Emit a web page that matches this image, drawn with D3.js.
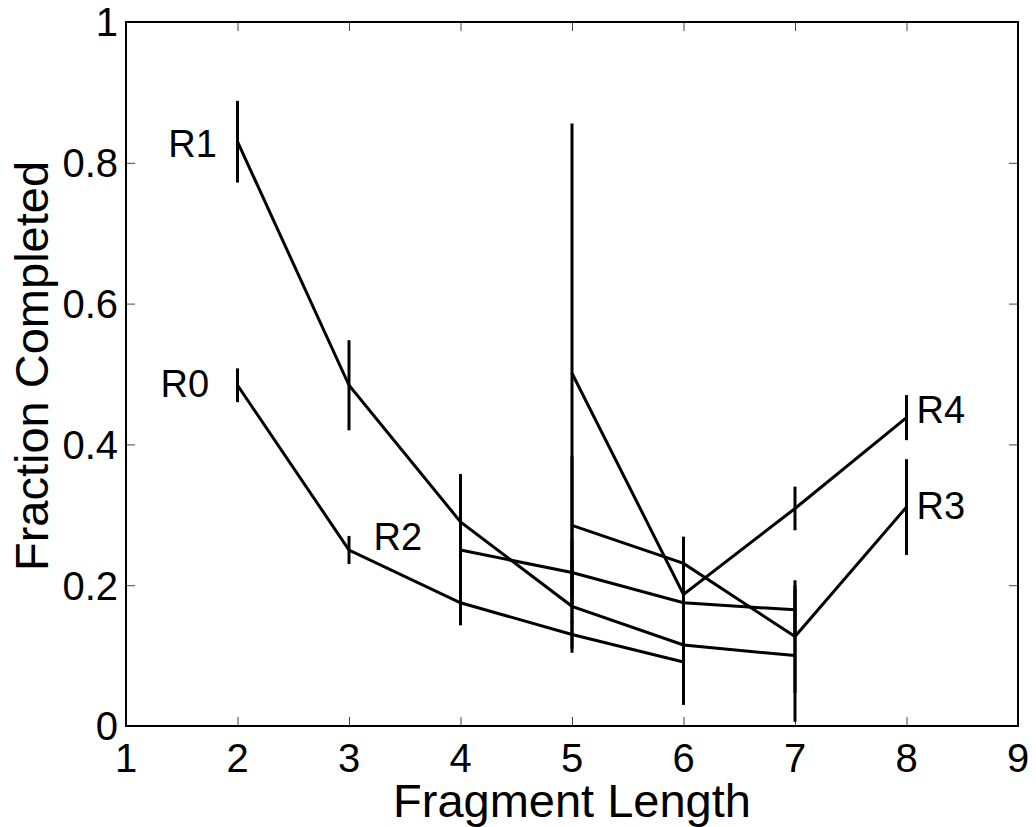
<!DOCTYPE html>
<html>
<head>
<meta charset="utf-8">
<script src="https://cdn.jsdelivr.net/npm/d3@7"></script>
<style>
  html, body { margin: 0; padding: 0; background: #fff; }
  text { font-family: "Liberation Sans", Arial, Helvetica, sans-serif; fill: #000; }
</style>
</head>
<body>
<svg id="chart" width="1036" height="827"></svg>
<script>
// Fragment length on x, fraction of runs completed on y; one series per run
const seriesNames = ["R0", "R1", "R2", "R3", "R4"];
const seriesX = [
  [2, 3, 4, 5, 6],
  [2, 3, 4, 5, 6, 7],
  [4, 5, 6, 7],
  [5, 6, 7, 8],
  [5, 6, 7, 8]
];
const seriesY = [
  [0.484, 0.250, 0.175, 0.130, 0.091],
  [0.830, 0.484, 0.290, 0.170, 0.115, 0.100],
  [0.250, 0.218, 0.175, 0.165],
  [0.285, 0.231, 0.127, 0.311],
  [0.501, 0.187, 0.309, 0.438]
];
// half-width of each error bar
const seriesErr = [
  [0.024, 0.020, 0.032, 0.020, 0.061],
  [0.058, 0.064, 0.068, 0.066, 0.060, 0.094],
  [0.050, 0.045, 0.035, 0.035],
  [0.098, 0.036, 0.080, 0.068],
  [0.355, 0.082, 0.031, 0.032]
];
// where each run's name is written (data coordinates)
const labelX = [1.31, 1.38, 3.22, 8.09, 8.09];
const labelY = [0.486, 0.828, 0.269, 0.314, 0.450];

const xTicks = [1, 2, 3, 4, 5, 6, 7, 8, 9];
const yTicks = [0, 0.2, 0.4, 0.6, 0.8, 1];
const xTitle = "Fragment Length";
const yTitle = "Fraction Completed";

(function draw() {
  const svg = d3.select("#chart");
  const m = { left: 126, right: 1018, top: 22, bottom: 726 };

  const x = d3.scaleLinear().domain([1, 9]).range([m.left, m.right]);
  const y = d3.scaleLinear().domain([0, 1]).range([m.bottom, m.top]);

  const tickLen = 9;
  const tickFont = 40;

  // inward ticks on all four sides
  function tickAxis(axis, tx, ty) {
    const g = svg.append("g").attr("transform", `translate(${tx},${ty})`).call(axis);
    g.select(".domain").remove();
    g.selectAll(".tick line").attr("stroke", "#444").attr("stroke-width", 1);
    g.selectAll(".tick text").remove();
    return g;
  }
  tickAxis(d3.axisBottom(x).tickValues(xTicks).tickSize(-tickLen), 0, m.bottom);
  tickAxis(d3.axisTop(x).tickValues(xTicks).tickSize(-tickLen), 0, m.top);
  tickAxis(d3.axisLeft(y).tickValues(yTicks).tickSize(-tickLen), m.left, 0);
  tickAxis(d3.axisRight(y).tickValues(yTicks).tickSize(-tickLen), m.right, 0);

  // tick labels
  svg.append("g").selectAll("text").data(xTicks).join("text")
    .attr("x", d => x(d))
    .attr("y", 743 + 0.716 * tickFont)
    .attr("text-anchor", "middle")
    .attr("font-size", tickFont)
    .text(d => d3.format("")(d));

  svg.append("g").selectAll("text").data(yTicks).join("text")
    .attr("x", 118)
    .attr("y", d => y(d) + 0.358 * tickFont)
    .attr("text-anchor", "end")
    .attr("font-size", tickFont)
    .text(d => d3.format("")(d));

  // axes box
  svg.append("rect")
    .attr("x", m.left).attr("y", m.top)
    .attr("width", m.right - m.left).attr("height", m.bottom - m.top)
    .attr("fill", "none").attr("stroke", "#000").attr("stroke-width", 2);

  // series lines and error bars
  const line = d3.line().x(d => x(d[0])).y(d => y(d[1]));
  const plot = svg.append("g");
  seriesNames.forEach((name, i) => {
    const pts = seriesX[i].map((xv, j) => [xv, seriesY[i][j], seriesErr[i][j]]);
    plot.append("g").selectAll("line").data(pts).join("line")
      .attr("x1", d => x(d[0])).attr("x2", d => x(d[0]))
      .attr("y1", d => y(d[1] - d[2])).attr("y2", d => y(d[1] + d[2]))
      .attr("stroke", "#000").attr("stroke-width", 3);
    plot.append("path")
      .attr("d", line(pts))
      .attr("fill", "none").attr("stroke", "#000").attr("stroke-width", 3);
  });

  // run names
  const labelFont = 38;
  svg.append("g").selectAll("text").data(seriesNames).join("text")
    .attr("x", (d, i) => x(labelX[i]))
    .attr("y", (d, i) => y(labelY[i]) + 0.358 * labelFont)
    .attr("font-size", labelFont)
    .text(d => d);

  // axis titles
  svg.append("text")
    .attr("x", x(5)).attr("y", 817)
    .attr("text-anchor", "middle")
    .attr("font-size", 47)
    .text(xTitle);

  svg.append("text")
    .attr("transform", "translate(48,366) rotate(-90)")
    .attr("text-anchor", "middle")
    .attr("font-size", 47)
    .text(yTitle);
})();
</script>
</body>
</html>
